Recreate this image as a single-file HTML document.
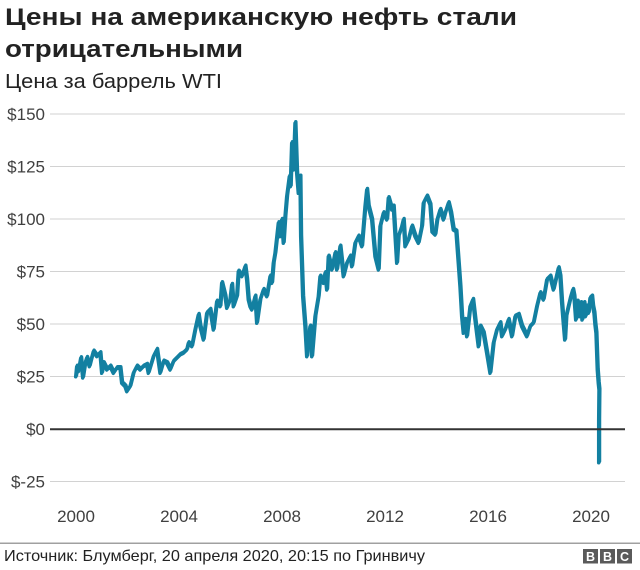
<!DOCTYPE html>
<html>
<head>
<meta charset="utf-8">
<style>
  html, body { margin: 0; padding: 0; background: #fff; }
  svg { display: block; }
  text { font-family: "Liberation Sans", "Noto Sans CJK SC", sans-serif; }
</style>
</head>
<body>
<svg width="640" height="570" viewBox="0 0 640 570" xmlns="http://www.w3.org/2000/svg">
  <rect width="640" height="570" fill="#fff"/>

  <!-- Title -->
  <text x="5" y="25" font-size="24" font-weight="bold" fill="#222" textLength="512" lengthAdjust="spacingAndGlyphs">Цены на американскую нефть стали</text>
  <text x="5" y="57" font-size="24" font-weight="bold" fill="#222" textLength="238" lengthAdjust="spacingAndGlyphs">отрицательными</text>
  <text x="5" y="88" font-size="20" fill="#222" textLength="217" lengthAdjust="spacingAndGlyphs">Цена за баррель WTI</text>

  <!-- Gridlines -->
  <g stroke="#d2d2d2" stroke-width="1">
    <line x1="50" y1="114" x2="625" y2="114"/>
    <line x1="50" y1="166.5" x2="625" y2="166.5"/>
    <line x1="50" y1="219" x2="625" y2="219"/>
    <line x1="50" y1="271.5" x2="625" y2="271.5"/>
    <line x1="50" y1="324" x2="625" y2="324"/>
    <line x1="50" y1="376.5" x2="625" y2="376.5"/>
    <line x1="50" y1="481.5" x2="625" y2="481.5"/>
  </g>

  <!-- Y labels -->
  <g font-size="17" fill="#404040" text-anchor="end">
    <text x="45" y="120">$150</text>
    <text x="45" y="172.5">$125</text>
    <text x="45" y="225">$100</text>
    <text x="45" y="277.5">$75</text>
    <text x="45" y="330">$50</text>
    <text x="45" y="382.5">$25</text>
    <text x="45" y="435">$0</text>
    <text x="45" y="487.5">$-25</text>
  </g>

  <!-- X labels -->
  <g font-size="17" fill="#404040" text-anchor="middle">
    <text x="76" y="522">2000</text>
    <text x="179" y="522">2004</text>
    <text x="282" y="522">2008</text>
    <text x="385" y="522">2012</text>
    <text x="488" y="522">2016</text>
    <text x="591" y="522">2020</text>
  </g>

  <!-- Data line -->
  <g fill="none" stroke="#1380A1" stroke-linejoin="round" stroke-linecap="round">
  <polyline id="p" stroke-width="3.5"
    points="
75.7,376.7 76.7,366.7 78.3,371.7 80.7,358.3 82.7,378 85,363.3 86.7,358 89.3,366.7 91,360 93.3,351.7
96.7,356.7 100,353.3 101.7,373.3 103.3,363.3 106.7,370 110,366.7 113.3,373.3 116.7,368.3 120,368.3
121.7,383.3 125,386.7 126.7,391.7 130,386.7 133.3,373.3 136.7,366.7 140,370 143.3,366.7 146.7,365
148.3,373.3 153.3,356.7 156.7,350 160,373.3 163.3,361.7 166.7,363.3 170,370 173.3,361.7 176.7,358.3
180,355 183.3,353.3 186.7,350 188.3,343.3 191.7,346.7 195,330 198.3,315 200,326.7 203.3,340
206.7,313.3 210,310 213.3,330 216.7,301.7 220,306.7 221.7,283.3 225,296.7 226.7,308.3 230,300
231.7,285 233.3,306.7 236.7,296.7 238.3,271.7 241.7,276.7 245,266.7 246.7,280 248.3,300 250,306.7
251.7,310 255,296.7 256.7,323.3 260,300 263.3,290 266.7,296.7 270,276.7 271.7,283.3 273.3,263.3
275,253.3 278.3,223.3 280,236.7 281.7,220 283.3,243.3 285,216.7 286.7,196.7 289.3,176.7 290.3,186.7
291.7,143.3 293.3,170 295,123.3 296.7,173.3 298.3,193.3 300,176.7 300.7,236.7 302.7,296.7 305,326.7
306.7,356.7 308,340 310,326.7 311.7,356.7 315,316.7 318.3,296.7 320,276.7 323.3,283.3 325,273.3
326.7,290 328.3,256.7 331.7,270 335,253.3 336.7,270 340,246.7 343.3,276.7 346.7,263.3 350,256.7
351.7,266.7 355,243.3 358.3,236.7 361.7,246.7 365,206.7 366.7,190 368.3,206.7 371.7,220 375,256.7
378.3,270 380,226.7 383.3,213.3 386.7,220 388.3,198.3 391.7,210 393.3,206.7 396.7,263.3 398.3,236.7
401.7,226.7 403.3,220 405,246.7 408.3,240 411.7,226.7 415,236.7 418.3,243.3 421.7,226.7 423.3,203.3
426.7,196.7 430,205 432,232 435,235 437,220 440,210 443.3,220 445,213.3 448.3,203.3 450.7,213.3
453.3,230 456,231.7 458.3,263.3 460,286.7 461.7,316.7 463.3,333.3 465,320 466.7,336.7 470,306.7
472.7,300 475,320 478.3,346.7 480,326.7 483.3,333.3 486.7,353.3 490,373.3 493.3,343.3 496.7,330
500,323.3 501.7,336.7 505,330 508.3,320 511.7,336.7 515,316.7 518.3,315 521.7,326.7 526.7,336.7
530,326.7 533.3,323.3 536.7,306.7 540,293.3 543.3,300 546.7,280 550,276.7 553.3,290 558.3,268.3
560,276.7 561.7,303.3 563.3,323.3 564.7,340 566,316.7 568.3,306.7 570.7,296.7 572.7,290 574,296.7
575.7,320 577.3,301.7 579.3,316.7 580.7,303.3 582,320 584,303.3 585.3,316.7 586.7,306.7 588.3,313.3
590,298.3 591.7,296.7 592.7,306.7 594,313.3 595,325 596,333.3 597.3,370 598.3,383.3 599,390
598.7,420 598.7,462.7"/>
  <use href="#p" transform="translate(0.8,-1.5)" stroke-width="2"/>
  </g>

  <!-- Zero line -->
  <line x1="50" y1="429.3" x2="625" y2="429.3" stroke="#333" stroke-width="2"/>

  <!-- Footer -->
  <rect x="0" y="542.5" width="640" height="1.5" fill="#a0a0a0"/>
  <text x="4" y="561" font-size="16" fill="#222" textLength="421" lengthAdjust="spacingAndGlyphs">Источник: Блумберг, 20 апреля 2020, 20:15 по Гринвичу</text>

  <!-- BBC logo -->
  <g>
    <rect x="583" y="549" width="15" height="14.5" fill="#5a5a5a"/>
    <rect x="600" y="549" width="15" height="14.5" fill="#5a5a5a"/>
    <rect x="617" y="549" width="15" height="14.5" fill="#5a5a5a"/>
    <g font-size="12.5" font-weight="bold" fill="#fff" text-anchor="middle">
      <text x="590.5" y="561">B</text>
      <text x="607.5" y="561">B</text>
      <text x="624.5" y="561">C</text>
    </g>
  </g>
</svg>
</body>
</html>
